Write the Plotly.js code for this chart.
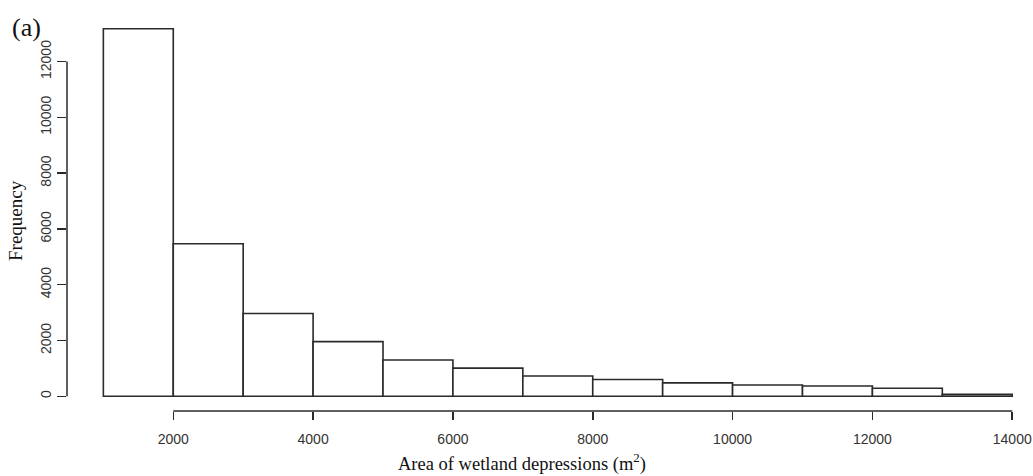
<!DOCTYPE html>
<html>
<head>
<meta charset="utf-8">
<script src="https://cdn.plot.ly/plotly-3.0.1.min.js"></script>
<style>html,body{margin:0;padding:0;background:#fff;}#chart{width:1033px;height:476px;}</style>
</head>
<body>
<div id="chart"></div>
<script>
// Histogram bins (lower edges, m^2) and frequencies
const binStarts = [1000, 2000, 3000, 4000, 5000, 6000, 7000, 8000, 9000, 10000, 11000, 12000, 13000];
const binWidth = 1000;
const frequencies = [13180, 5470, 2970, 1960, 1300, 1010, 730, 600, 480, 405, 370, 290, 70];
const xTicks = [2000, 4000, 6000, 8000, 10000, 12000, 14000];
const yTicks = [0, 2000, 4000, 6000, 8000, 10000, 12000];

const lineColor = '#2a2a2a';
const tickFont = {family: 'Liberation Sans, Arial, sans-serif', size: 14, color: '#333'};
const serif = 'Liberation Serif, Times New Roman, serif';

const trace = {
  type: 'bar',
  x: binStarts.map(b => b + binWidth / 2),
  y: frequencies,
  width: binStarts.map(() => binWidth),
  marker: {color: '#ffffff', line: {color: lineColor, width: 1.6}},
  hoverinfo: 'x+y'
};

const layout = {
  width: 1033, height: 476,
  margin: {l: 67, r: 0, t: 14, b: 65, pad: 0},
  paper_bgcolor: '#fff', plot_bgcolor: '#fff',
  showlegend: false,
  bargap: 0,
  xaxis: {
    range: [480, 14297], showgrid: false, zeroline: false, showline: false,
    tickmode: 'array', tickvals: xTicks, ticktext: xTicks.map(String),
    ticks: 'outside', ticklen: 8, tickwidth: 1.5, tickcolor: lineColor,
    tickfont: tickFont, ticklabelstandoff: 7
  },
  yaxis: {
    range: [-527, 13707], showgrid: false, zeroline: false, showline: false,
    tickmode: 'array', tickvals: yTicks, ticktext: yTicks.map(String),
    ticks: 'outside', ticklen: 9, tickwidth: 1.5, tickcolor: lineColor,
    tickfont: tickFont, tickangle: -90
  },
  shapes: [
    {type: 'line', xref: 'x', yref: 'paper', x0: xTicks[0], x1: xTicks[xTicks.length - 1], y0: 0, y1: 0,
     line: {color: lineColor, width: 1.5}},
    {type: 'line', xref: 'paper', yref: 'y', x0: 0, x1: 0, y0: yTicks[0], y1: yTicks[yTicks.length - 1],
     line: {color: lineColor, width: 1.5}}
  ],
  annotations: [
    {text: 'Area of wetland depressions (m<sup>2</sup>)', xref: 'paper', yref: 'paper',
     x: (522 - 67) / 966, y: -(462 - 411) / 397, xanchor: 'center', yanchor: 'middle',
     showarrow: false, font: {family: serif, size: 18.5, color: '#111'}},
    {text: 'Frequency', xref: 'paper', yref: 'paper',
     x: (15 - 67) / 966, y: (411 - 221) / 397, xanchor: 'center', yanchor: 'middle',
     textangle: -90, showarrow: false, font: {family: serif, size: 19, color: '#111'}},
    {text: '(a)', xref: 'paper', yref: 'paper',
     x: (26 - 67) / 966, y: (411 - 27) / 397, xanchor: 'center', yanchor: 'middle',
     showarrow: false, font: {family: serif, size: 26, color: '#111'}}
  ]
};

Plotly.newPlot('chart', [trace], layout, {displayModeBar: false, staticPlot: true});
</script>
</body>
</html>
